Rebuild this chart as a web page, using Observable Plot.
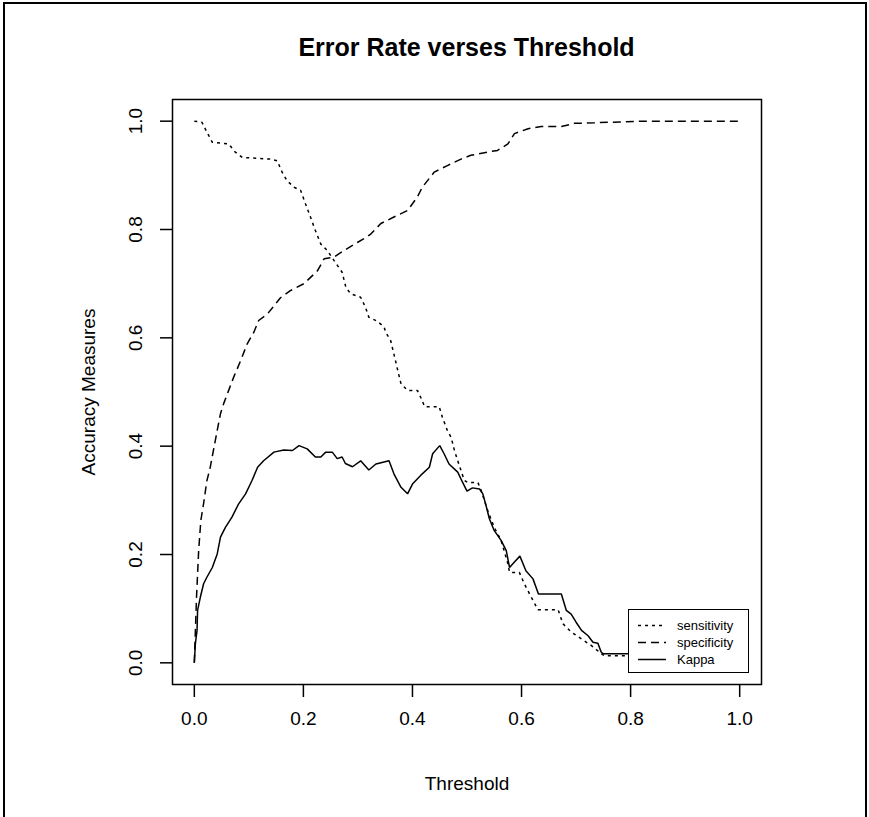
<!DOCTYPE html>
<html>
<head>
<meta charset="utf-8">
<script src="https://cdn.jsdelivr.net/npm/d3@7"></script>
<script src="https://cdn.jsdelivr.net/npm/@observablehq/plot@0.6"></script>
<style>
html, body { margin: 0; padding: 0; background: #fff; }
#wrap { position: relative; width: 869px; height: 817px; overflow: hidden; font-family: "Liberation Sans", Arial, sans-serif; background: #fff; }
#outer { position: absolute; left: 3px; top: 2px; width: 864px; height: 900px; border: 2px solid #000; box-sizing: border-box; pointer-events: none; }
#title { margin-left: 172px; width: 589px; height: 60px; box-sizing: border-box; padding-top: 33px; text-align: center; font-weight: bold; font-size: 25px; line-height: 28px; }
#legend { position: absolute; left: 628px; top: 609px; width: 121px; height: 64px; box-sizing: border-box; background: #fff; border: 1.5px solid #000; }
#legend .row { position: absolute; left: 0; height: 17px; width: 118px; }
#legend svg { position: absolute; left: 9px; top: 0; }
#legend span { position: absolute; left: 48px; top: 0; font-size: 13px; line-height: 17px; }
</style>
</head>
<body>
<div id="wrap">
  <div id="title">Error Rate verses Threshold</div>
  <div id="chart"></div>
  <div id="legend"></div>
  <div id="outer"></div>
</div>
<script>
// Data: [threshold, value]
const sensitivity = [[0,1.0],[0.014,0.998],[0.023,0.98],[0.033,0.961],[0.063,0.958],[0.075,0.943],[0.088,0.933],[0.14,0.93],[0.152,0.927],[0.161,0.906],[0.17,0.89],[0.183,0.878],[0.195,0.872],[0.204,0.847],[0.213,0.823],[0.222,0.798],[0.232,0.773],[0.244,0.761],[0.256,0.743],[0.271,0.721],[0.278,0.693],[0.287,0.681],[0.305,0.675],[0.314,0.656],[0.32,0.638],[0.335,0.631],[0.348,0.62],[0.351,0.61],[0.36,0.595],[0.366,0.57],[0.373,0.54],[0.379,0.515],[0.391,0.503],[0.409,0.503],[0.418,0.484],[0.422,0.473],[0.449,0.473],[0.455,0.453],[0.464,0.429],[0.471,0.416],[0.477,0.392],[0.483,0.373],[0.489,0.355],[0.495,0.337],[0.501,0.333],[0.52,0.333],[0.526,0.318],[0.538,0.281],[0.55,0.25],[0.5625,0.226],[0.575,0.183],[0.578,0.167],[0.596,0.167],[0.605,0.146],[0.618,0.121],[0.63,0.098],[0.667,0.098],[0.676,0.072],[0.691,0.057],[0.71,0.044],[0.728,0.032],[0.746,0.017],[0.752,0.013],[0.80,0.013]];
const specificity = [[0,0],[0.004,0.12],[0.008,0.208],[0.012,0.263],[0.017,0.294],[0.023,0.336],[0.029,0.36],[0.035,0.392],[0.042,0.429],[0.048,0.46],[0.054,0.479],[0.063,0.503],[0.072,0.527],[0.085,0.558],[0.097,0.589],[0.109,0.61],[0.118,0.632],[0.134,0.644],[0.158,0.674],[0.176,0.687],[0.201,0.70],[0.226,0.724],[0.238,0.746],[0.256,0.749],[0.274,0.761],[0.299,0.776],[0.311,0.783],[0.324,0.792],[0.342,0.811],[0.366,0.823],[0.391,0.835],[0.409,0.86],[0.418,0.878],[0.44,0.906],[0.464,0.918],[0.489,0.93],[0.507,0.937],[0.538,0.943],[0.556,0.946],[0.575,0.958],[0.587,0.977],[0.612,0.986],[0.636,0.99],[0.673,0.99],[0.697,0.996],[0.734,0.997],[0.826,1.0],[1.0,1.0]];
const kappa = [[0,0],[0.002,0.036],[0.005,0.06],[0.006,0.097],[0.011,0.121],[0.017,0.146],[0.023,0.158],[0.033,0.176],[0.042,0.201],[0.048,0.232],[0.057,0.25],[0.069,0.269],[0.081,0.293],[0.094,0.312],[0.106,0.337],[0.116,0.361],[0.127,0.373],[0.146,0.389],[0.164,0.393],[0.18,0.392],[0.192,0.401],[0.207,0.395],[0.222,0.38],[0.232,0.38],[0.241,0.389],[0.253,0.389],[0.262,0.377],[0.271,0.38],[0.277,0.368],[0.29,0.362],[0.305,0.373],[0.32,0.356],[0.333,0.367],[0.357,0.373],[0.366,0.349],[0.379,0.324],[0.391,0.312],[0.4,0.33],[0.415,0.346],[0.431,0.361],[0.437,0.386],[0.45,0.401],[0.458,0.386],[0.467,0.367],[0.483,0.352],[0.492,0.333],[0.5,0.317],[0.51,0.323],[0.523,0.321],[0.529,0.312],[0.535,0.29],[0.541,0.266],[0.55,0.244],[0.5625,0.226],[0.572,0.207],[0.578,0.176],[0.587,0.186],[0.597,0.197],[0.608,0.17],[0.621,0.155],[0.631,0.127],[0.673,0.127],[0.682,0.097],[0.691,0.09],[0.70,0.075],[0.71,0.06],[0.722,0.05],[0.731,0.038],[0.74,0.036],[0.746,0.02],[0.749,0.017],[0.80,0.017]];

const xTicks = [0, 0.2, 0.4, 0.6, 0.8, 1.0];
const yTicks = [0, 0.2, 0.4, 0.6, 0.8, 1.0];
const seriesNames = ["sensitivity", "specificity", "Kappa"];
const titleText = "Error Rate verses Threshold";
const xLabel = "Threshold";
const yLabel = "Accuracy Measures";

const dashes = {sensitivity: "3,4", specificity: "8,5", Kappa: null};
const seriesData = {sensitivity, specificity, Kappa: kappa};

const font = "Liberation Sans, Arial, Helvetica, sans-serif";
const fmt = d => d.toFixed(1);

const lineMarks = seriesNames.map(name => Plot.line(seriesData[name], {
  x: d => d[0], y: d => d[1],
  stroke: "#000", strokeWidth: 1.5,
  strokeDasharray: dashes[name] || undefined,
  strokeLinejoin: "miter", strokeLinecap: "butt"
}));

const chart = Plot.plot({
  width: 869,
  height: 757,
  marginLeft: 172,
  marginRight: 108,
  marginTop: 39,
  marginBottom: 133,
  style: {fontFamily: font, fontSize: "19px", background: "transparent", color: "#000"},
  x: {domain: [-0.04, 1.04]},
  y: {domain: [-0.04, 1.04]},
  marks: [
    Plot.frame({stroke: "#000", strokeWidth: 1.5}),
    Plot.axisX({ticks: xTicks, tickFormat: fmt, tickSize: 13, tickPadding: 14, fontSize: 19, label: null, stroke: "#000", strokeWidth: 1.5}),
    // y tick lines
    Plot.axisY({ticks: yTicks, tickFormat: null, text: null, tickSize: 12, label: null, stroke: "#000", strokeWidth: 1.5}),
    // y tick labels, rotated like R's default (parallel to axis)
    Plot.axisY({ticks: yTicks, tickFormat: fmt, tickSize: 0, tickPadding: 37, fontSize: 19, label: null, rotate: -90, textAnchor: "middle"}),
    Plot.text([xLabel], {frameAnchor: "bottom", dy: 105, fontSize: 19, fill: "#000"}),
    Plot.text([yLabel], {frameAnchor: "left", textAnchor: "middle", dx: -84, rotate: -90, fontSize: 19, fill: "#000"}),
    ...lineMarks
  ]
});
document.getElementById("chart").appendChild(chart);
document.getElementById("title").textContent = titleText;

// Legend
const legend = document.getElementById("legend");
seriesNames.forEach((name, i) => {
  const row = document.createElement("div");
  row.className = "row";
  row.style.top = (7 + i * 17) + "px";
  const svgNS = "http://www.w3.org/2000/svg";
  const svg = document.createElementNS(svgNS, "svg");
  svg.setAttribute("width", "30");
  svg.setAttribute("height", "17");
  const ln = document.createElementNS(svgNS, "line");
  ln.setAttribute("x1", "0"); ln.setAttribute("x2", "28");
  ln.setAttribute("y1", "8.5"); ln.setAttribute("y2", "8.5");
  ln.setAttribute("stroke", "#000"); ln.setAttribute("stroke-width", "1.5");
  if (dashes[name]) ln.setAttribute("stroke-dasharray", dashes[name]);
  svg.appendChild(ln);
  const sp = document.createElement("span");
  sp.textContent = name;
  row.appendChild(svg);
  row.appendChild(sp);
  legend.appendChild(row);
});
</script>
</body>
</html>
